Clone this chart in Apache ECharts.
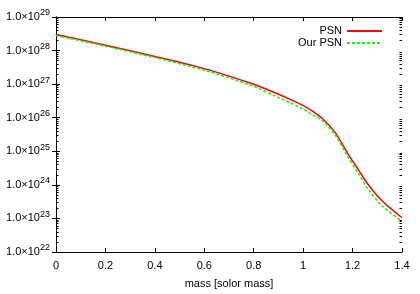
<!DOCTYPE html>
<html>
<head>
<meta charset="utf-8">
<script src="https://cdn.jsdelivr.net/npm/echarts@6/dist/echarts.min.js"></script>
<style>html,body{margin:0;padding:0;background:#fff}#c{width:420px;height:294px}</style>
</head>
<body>
<div id="c"></div>
<script>
var mass = [0, 0.2, 0.4, 0.6, 0.8, 0.9, 0.95, 1.0, 1.03, 1.08, 1.13, 1.18, 1.22, 1.26, 1.32, 1.4];
var psn = [3.0e28, 1.44e28, 6.7e27, 2.9e27, 9.9e26, 5.0e26, 3.45e26, 2.3e26, 1.72e26, 9.2e25, 3.6e25, 8.7e24, 3.1e24, 1.1e24, 3.3e23, 1.05e23];
var ourPsn = [2.8e28, 1.35e28, 6.2e27, 2.6e27, 8.6e26, 4.0e26, 2.75e26, 1.8e26, 1.33e26, 7.8e25, 3.0e25, 7.0e24, 2.4e24, 8.0e23, 2.35e23, 8.2e22];
var seriesNames = ['PSN', 'Our PSN'];
var xTitle = 'mass [solor mass]';

var minorVals = [];
for (var e = 22; e < 29; e++) {
  for (var k = 2; k <= 9; k++) minorVals.push(k * Math.pow(10, e));
}

var font = 'Liberation Sans';
var chart = echarts.init(document.getElementById('c'));
var axisLine = {show: true, lineStyle: {color: '#000', width: 1}};
function xAx(pos, show) {
  return {
    type: 'value', min: 0, max: 1.4, interval: 0.2, position: pos,
    axisLine: axisLine,
    axisTick: {show: true, inside: true, length: 4, lineStyle: {color: '#000'}},
    axisLabel: {show: show, color: '#000', fontFamily: font, fontSize: 11, margin: 8},
    splitLine: {show: false},
    name: show ? xTitle : '', nameLocation: 'middle', nameGap: 26,
    nameTextStyle: {color: '#000', fontFamily: font, fontSize: 11}
  };
}
function yAx(pos, show, minor) {
  var o = {
    type: 'log', logBase: 10, min: 1e22, max: 1e29, position: pos, splitNumber: 7,
    axisLine: axisLine,
    axisTick: {show: true, inside: true, length: minor ? 2.5 : 4, lineStyle: {color: '#000'}},
    axisLabel: {
      show: show, color: '#000', fontFamily: font, fontSize: 11, margin: 6,
      formatter: function (v) {
        var ex = Math.round(Math.log10(v));
        return '{a|1.0\u00d710}{b|' + ex + '}';
      },
      rich: {
        a: {fontFamily: font, fontSize: 11, color: '#000'},
        b: {fontFamily: font, fontSize: 9, color: '#000', padding: [0, 0, 8, 0]}
      }
    },
    splitLine: {show: false}
  };
  if (minor) {
    o.axisTick.customValues = minorVals;
    o.axisLabel = {show: false};
    o.axisLine = {show: false};
  }
  return o;
}
chart.setOption({
  animation: false,
  backgroundColor: '#fff',
  grid: {left: 56, right: 18, top: 17, bottom: 36},
  legend: {
    orient: 'vertical', right: 32, top: 20, align: 'right',
    itemWidth: 35, itemHeight: 8, itemGap: 0,
    itemStyle: {opacity: 0},
    textStyle: {color: '#000', fontFamily: font, fontSize: 11, lineHeight: 12},
    data: seriesNames
  },
  xAxis: [xAx('bottom', true), xAx('top', false)],
  yAxis: [yAx('left', true, false), yAx('right', false, false), yAx('left', false, true), yAx('right', false, true)],
  series: [
    {name: seriesNames[0], type: 'line', smooth: 0.3, symbol: 'none', xAxisIndex: 0, yAxisIndex: 0,
     lineStyle: {color: '#ff0000', width: 1.5}, itemStyle: {color: '#ff0000'},
     data: mass.map(function (m, i) { return [m, psn[i]]; })},
    {name: seriesNames[1], type: 'line', smooth: 0.3, symbol: 'none', xAxisIndex: 0, yAxisIndex: 0,
     lineStyle: {color: '#00ff00', width: 1.5, type: [3, 2]}, itemStyle: {color: '#00ff00'},
     data: mass.map(function (m, i) { return [m, ourPsn[i]]; })}
  ]
});
</script>
</body>
</html>
